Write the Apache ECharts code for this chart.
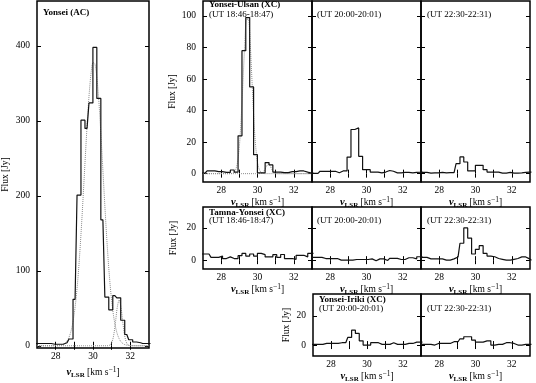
<!DOCTYPE html>
<html>
<head>
<meta charset="utf-8">
<script src="https://cdn.jsdelivr.net/npm/echarts@6/dist/echarts.min.js"></script>
<style>
  html, body { margin: 0; padding: 0; background: #fff; }
  #chart { width: 536px; height: 383px; }
</style>
</head>
<body>
<div id="chart"></div>
<script>
// channel centres (km/s), shared by every spectrum
const vel = [26.91, 27.12, 27.33, 27.55, 27.76, 27.97, 28.18, 28.40, 28.61, 28.82,
             29.04, 29.25, 29.46, 29.68, 29.89, 30.10, 30.31, 30.53, 30.74, 30.95,
             31.17, 31.38, 31.59, 31.81, 32.02, 32.23, 32.44, 32.66, 32.87, 33.08];

// Yonsei single dish (AC)
const fluxAC = [3, 3, 3, 3, 3, 2, 2, 2, 4, 9,
                62, 201, 301, 290, 324, 398, 330, 168, 65, 48,
                67, 64, 34, 15, 8, 5, 4, 3, 3, 3];
// Yonsei-Ulsan
const ulsan1 = [0.4, 0.4, 1.7, 1.7, 1.3, 1.3, 0.8, 0.8, 2.3, 1.0,
                24, 78, 99, 55, 12, 0.5, 0.5, 7, 5.5, 1,
                1, 0.6, 0.6, 1.3, 1.3, 1.7, 1.7, 1.0, 0.4, 0.4];
const ulsan2 = [0.2, 0.2, 0.2, 1.5, 1.5, 1.5, 1.5, 0.6, 1.7, 1.7,
                10.5, 28, 29, 11, 2.5, 2.5, 1, 1, 0.5, 1,
                2, 1.5, 0.5, 0.5, 0.8, 0.8, 0.5, 0.8, 1.0, 1.2];
const ulsan3 = [0.5, 0.8, 0.8, 0.3, 0.5, 0.5, 0.8, 0.5, 0.6, 0.6,
                6.3, 10.6, 7.4, 1.7, 1.7, 5.3, 5.3, 2.5, 1, 1,
                1, 0.3, 0.3, 0.8, 0.3, 0.3, 0.5, 0.8, 1.0, 1.0];
// Tamna-Yonsei
const tamna1 = [3.8, 3.8, 3.8, 1.7, 1.7, 2.5, 1, 2, 1, 1,
                2.8, 4.2, 2.5, 3.8, 2.5, 4.2, 3.4, 2, 2, 3.4,
                1.7, 3.5, 1, 1, 0.5, 3, 3, 2, 4.2, 4.2];
const tamna2 = [1.7, 1.7, 1.7, 1.7, 1, 1, 1, 1, 0, 0,
                0, 0, 0.4, 0.4, 0.4, 0.4, 0.8, -0.4, 0.8, 0.8,
                -0.2, 1.1, 1.1, 0.4, 0.4, 1.5, 1.5, 0.8, 2.1, 2.1];
const tamna3 = [1.7, 1.7, 1.7, 0.8, 0.8, 0.8, 0.8, 0, 0, 0.8,
                2, 10.5, 20, 13.7, 3.8, 6.7, 9, 4.2, 2.5, 2.1,
                1, 0.5, 0, 0, 0.5, 1, 2, 2, 0.8, 0];
// Yonsei-Iriki
const iriki1 = [0.5, 0.5, 0.5, 0.5, 1.1, 1.1, 1.1, 1.1, 1.6, 1.6,
                5.2, 10.2, 8, 2.9, 0, 0, 1.6, 1.6, 0.5, 0.5,
                0.5, 1.6, 0.5, 0.5, 0.5, 1.1, 1.1, 2, 2, 2];
const iriki2 = [0.5, 0.5, 0.5, 0.5, 0, 1.1, 1.1, 1.1, 1.1, 2.3,
                2.3, 4.3, 5.7, 5.7, 3.4, 2, 2, 2.9, 2.9, 0,
                0.5, 0.5, 1.6, 1.6, 1.1, 0, 0, 0.5, 0.5, 0.5];

// gaussian fits (dotted)
const fitVel = [27.0, 28.0, 28.2, 28.4, 28.5, 28.6, 28.7, 28.8, 28.9, 29.0,
                29.1, 29.2, 29.3, 29.4, 29.5, 29.6, 29.7, 29.8, 29.9, 30.0,
                30.1, 30.2, 30.3, 30.4, 30.5, 30.6, 30.7, 30.8, 30.9, 31.0,
                31.1, 31.2, 31.3, 31.4, 31.5, 31.6, 31.7, 31.8, 31.9, 32.0,
                32.4, 33.0];
const fitAC1 = [0, 0.1, 0.4, 1.7, 3.3, 6.0, 10.5, 17.5, 28.2, 43.6,
                64.7, 92.4, 126.8, 167.1, 211.6, 257.4, 300.8, 337.7, 364.5, 377.8,
                376.3, 360.1, 331.1, 292.5, 248.3, 202.4, 158.6, 119.4, 86.3, 60.0,
                40.1, 25.7, 15.8, 9.4, 5.3, 2.9, 1.5, 0.8, 0.4, 0.2,
                0, 0];
const fitAC2 = [0, 0, 0, 0, 0, 0, 0, 0, 0, 0,
                0, 0, 0, 0, 0, 0, 0, 0, 0, 0,
                0, 0, 0, 0, 0, 0, 0, 0.1, 0.8, 3.8,
                12.9, 30.5, 51.3, 61, 51.3, 30.5, 12.9, 3.8, 0.8, 0.1,
                0, 0];
const fitXC1 = [0, 0, 0, 0, 0, 0.2, 0.8, 2.6, 7.2, 17.2,
                34.5, 58.1, 82.3, 97.9, 97.9, 82.3, 58.1, 34.5, 17.2, 7.2,
                2.6, 0.8, 0.2, 0, 0, 0, 0, 0, 0, 0,
                0, 0, 0, 0, 0, 0, 0, 0, 0, 0,
                0, 0];
const fitXC2 = [0, 0, 0, 0, 0, 0, 0, 0, 0, 0,
                0, 0, 0, 0, 0, 0, 0, 0, 0, 0,
                0, 0.2, 0.8, 2.5, 4.8, 6, 4.8, 2.5, 0.8, 0.2,
                0, 0, 0, 0, 0, 0, 0, 0, 0, 0,
                0, 0];

const xTicks = [28, 29, 30, 31, 32];
const xLabels = [28, 30, 32];
const yTicksAC = [0, 100, 200, 300, 400];
const yTicksTop = [0, 20, 40, 60, 80, 100];
const yTicksLow = [0, 20];

const font = 'Liberation Serif';

// one entry per frame: [left, top, width, height]
const panels = [
  {box: [37, 1, 112, 347], y: [-3, 460], ticks: yTicksAC, ylab: true, ygap: 27, xgap: 11, flux: fluxAC, fits: [fitAC1, fitAC2]},
  {box: [203, 1, 109, 181], y: [-5.3, 109.5], ticks: yTicksTop, ylab: true, ygap: 25, xgap: 7, flux: ulsan1, fits: [fitXC1, fitXC2]},
  {box: [312, 1, 109, 181], y: [-5.3, 109.5], ticks: yTicksTop, ylab: false, xgap: 7, flux: ulsan2},
  {box: [421, 1, 109, 181], y: [-5.3, 109.5], ticks: yTicksTop, ylab: false, xgap: 7, flux: ulsan3},
  {box: [203, 207, 109, 62], y: [-5.5, 33], ticks: yTicksLow, ylab: true, ygap: 25, xgap: 6, flux: tamna1},
  {box: [312, 207, 109, 62], y: [-5.5, 33], ticks: yTicksLow, ylab: false, xgap: 6, flux: tamna2},
  {box: [421, 207, 109, 62], y: [-5.5, 33], ticks: yTicksLow, ylab: false, xgap: 6, flux: tamna3},
  {box: [313, 294, 108, 62], y: [-7.5, 35], ticks: yTicksLow, ylab: true, ygap: 22, xgap: 6, flux: iriki1},
  {box: [421, 294, 109, 62], y: [-7.5, 35], ticks: yTicksLow, ylab: false, xgap: 6, flux: iriki2}
];

const labels = [
  ['Yonsei (AC)', 43, 8, true],
  ['Yonsei-Ulsan (XC)', 209, 0, true],
  ['(UT 18:46-18:47)', 209, 10, false],
  ['(UT 20:00-20:01)', 317, 10, false],
  ['(UT 22:30-22:31)', 427, 10, false],
  ['Tamna-Yonsei (XC)', 209, 208, true],
  ['(UT 18:46-18:47)', 209, 216, false],
  ['(UT 20:00-20:01)', 317, 216, false],
  ['(UT 22:30-22:31)', 427, 216, false],
  ['Yonsei-Iriki (XC)', 319, 295, true],
  ['(UT 20:00-20:01)', 319, 304, false],
  ['(UT 22:30-22:31)', 427, 304, false]
];

const tickStyle = {inside: true, length: 4, lineStyle: {color: '#000', width: 1}};
const labelStyle = {fontFamily: font, fontSize: 9.5, color: '#000'};
const xName = '{v|v}{s|LSR} [km s{p|\u22121}]';
const xNameStyle = {
  fontFamily: font, fontSize: 9.5, color: '#000', lineHeight: 13,
  rich: {
    v: {fontFamily: font, fontSize: 10.5, fontStyle: 'italic', fontWeight: 'bold', color: '#000', lineHeight: 13},
    s: {fontFamily: font, fontSize: 7, fontWeight: 'bold', color: '#000', lineHeight: 7, verticalAlign: 'bottom'},
    p: {fontFamily: font, fontSize: 7.5, color: '#000', lineHeight: 7, verticalAlign: 'top'}
  }
};

let grid = [], xAxis = [], yAxis = [], series = [];

panels.forEach(function (p, i) {
  grid.push({
    left: p.box[0], top: p.box[1], width: p.box[2], height: p.box[3],
    show: true, borderColor: '#000', borderWidth: 1.5, outerBoundsMode: 'none'
  });
  // bottom + top x axes
  xAxis.push({
    type: 'value', gridIndex: i, position: 'bottom', min: 27, max: 33,
    axisLine: {show: false}, splitLine: {show: false},
    axisTick: Object.assign({customValues: xTicks}, tickStyle),
    axisLabel: Object.assign({customValues: xLabels, margin: 3}, labelStyle),
    name: xName, nameLocation: 'middle', nameGap: p.xgap, nameTextStyle: xNameStyle
  });
  xAxis.push({
    type: 'value', gridIndex: i, position: 'top', min: 27, max: 33,
    axisLine: {show: false}, splitLine: {show: false},
    axisTick: Object.assign({customValues: xTicks}, tickStyle),
    axisLabel: {show: false}
  });
  // left + right y axes
  let yl = {
    type: 'value', gridIndex: i, position: 'left', min: p.y[0], max: p.y[1],
    axisLine: {show: false}, splitLine: {show: false},
    axisTick: Object.assign({customValues: p.ticks}, tickStyle),
    axisLabel: Object.assign({show: p.ylab, customValues: p.ticks, margin: 7}, labelStyle)
  };
  if (p.ylab) {
    yl.name = 'Flux [Jy]';
    yl.nameLocation = 'middle';
    yl.nameGap = p.ygap;
    yl.nameTextStyle = {fontFamily: font, fontSize: 9.5, color: '#000'};
  }
  yAxis.push(yl);
  yAxis.push({
    type: 'value', gridIndex: i, position: 'right', min: p.y[0], max: p.y[1],
    axisLine: {show: false}, splitLine: {show: false},
    axisTick: Object.assign({customValues: p.ticks}, tickStyle),
    axisLabel: {show: false}
  });

  (p.fits || []).forEach(function (f) {
    series.push({
      type: 'line', xAxisIndex: 2 * i, yAxisIndex: 2 * i,
      data: fitVel.map(function (v, k) { return [v, f[k]]; }),
      smooth: 0.3, symbol: 'none', silent: true,
      lineStyle: {color: '#8c8c8c', width: 1, type: 'dotted'}
    });
  });
  series.push({
    type: 'line', step: 'middle', xAxisIndex: 2 * i, yAxisIndex: 2 * i,
    data: vel.map(function (v, k) { return [v, p.flux[k]]; }),
    symbol: 'none', silent: true,
    lineStyle: {color: '#111', width: 1.2}
  });
});

let title = labels.map(function (t) {
  return {
    text: t[0], left: t[1], top: t[2], padding: 0,
    textStyle: {fontFamily: font, fontSize: 9, fontWeight: t[3] ? 'bold' : 'normal', color: '#000'}
  };
});

let myChart = echarts.init(document.getElementById('chart'));
let option = {
  animation: false,
  backgroundColor: '#fff',
  title: title,
  grid: grid,
  xAxis: xAxis,
  yAxis: yAxis,
  series: series
};
myChart.setOption(option);
</script>
</body>
</html>
